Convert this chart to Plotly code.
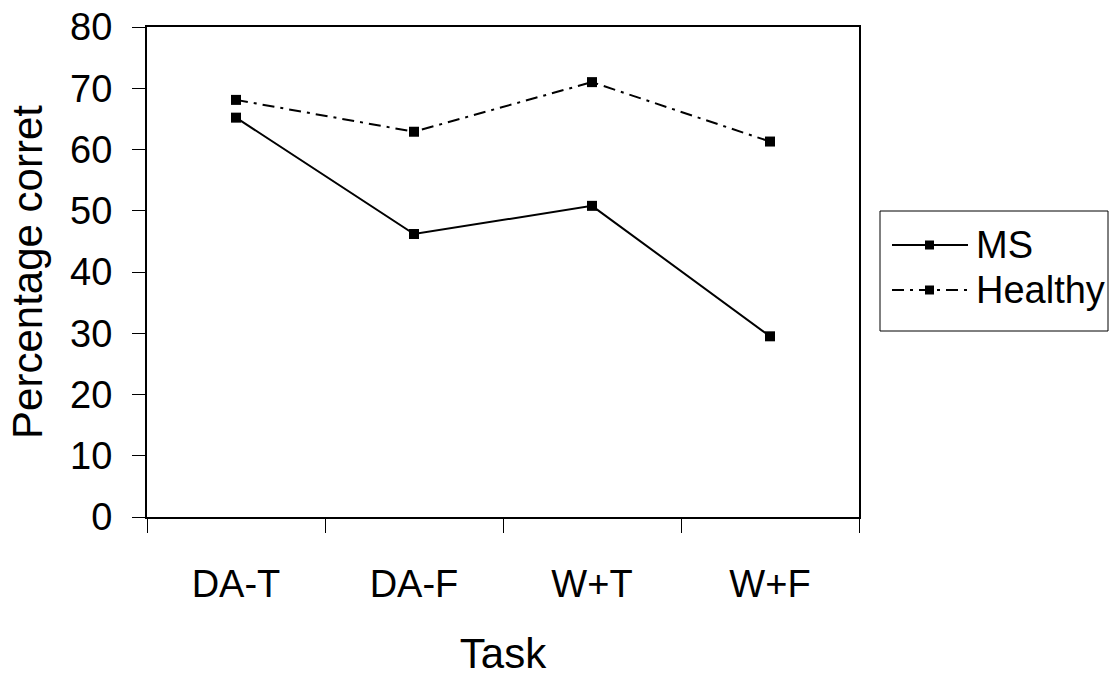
import plotly.graph_objects as go

tasks = ["DA-T", "DA-F", "W+T", "W+F"]
ms_values = [65.2, 46.2, 50.8, 29.5]
healthy_values = [68.1, 62.9, 71.0, 61.3]
y_ticks = [0, 10, 20, 30, 40, 50, 60, 70, 80]
series_names = ["MS", "Healthy"]

FONT = "Liberation Sans, Arial, sans-serif"
FS = 38
TFS = 42
DASHDOT = "12px,6px,3px,6px"

# plot area in pixels (for legend placement outside the plot)
L, R, T, B = 147, 859, 27, 517
def px(x):
    return (x - L) / (R - L)
def py(y):
    return (B - y) / (B - T)

fig = go.Figure()
fig.add_trace(go.Scatter(
    x=tasks, y=ms_values, name=series_names[0], mode="lines+markers",
    line=dict(color="black", width=2),
    marker=dict(symbol="square", size=10, color="black"),
))
fig.add_trace(go.Scatter(
    x=tasks, y=healthy_values, name=series_names[1], mode="lines+markers",
    line=dict(color="black", width=2, dash=DASHDOT),
    marker=dict(symbol="square", size=10, color="black"),
))

# custom legend
shapes = [
    dict(type="rect", xref="paper", yref="paper",
         x0=px(880), x1=px(1108), y0=py(331), y1=py(211),
         line=dict(color="black", width=1), fillcolor="white", layer="below"),
]
annotations = []
legend_rows = [(245, "solid"), (290, DASHDOT)]
for name, (yy, dash) in zip(series_names, legend_rows):
    shapes.append(dict(type="line", xref="paper", yref="paper",
                       x0=px(892), x1=px(968), y0=py(yy), y1=py(yy),
                       line=dict(color="black", width=2, dash=dash)))
    shapes.append(dict(type="rect", xref="paper", yref="paper",
                       x0=px(925), x1=px(934), y0=py(yy + 4.5), y1=py(yy - 4.5),
                       line=dict(color="black", width=0), fillcolor="black"))
    annotations.append(dict(text=name, xref="paper", yref="paper",
                            x=px(974), y=py(yy), xanchor="left", yanchor="middle",
                            showarrow=False, font=dict(family=FONT, size=FS, color="black")))

fig.update_layout(
    width=1110, height=677,
    margin=dict(l=L, r=1110 - R, t=T, b=677 - B, autoexpand=False),
    paper_bgcolor="white", plot_bgcolor="white",
    font=dict(family=FONT, size=FS, color="black"),
    showlegend=False,
    shapes=shapes, annotations=annotations,
)
fig.update_xaxes(
    type="category", categoryorder="array", categoryarray=tasks,
    range=[-0.5, 3.5], automargin=False,
    showline=True, linecolor="black", linewidth=2, mirror=True,
    showgrid=False, zeroline=False,
    ticks="outside", tickson="boundaries", ticklen=14, tickcolor="black", tickwidth=1,
    ticklabelstandoff=32,
    title=dict(text="Task", standoff=42, font=dict(size=TFS)),
)
fig.update_yaxes(
    range=[0, 80], tickvals=y_ticks, automargin=False,
    showline=True, linecolor="black", linewidth=2, mirror=True,
    showgrid=False, zeroline=False,
    ticks="outside", ticklen=13, tickcolor="black", tickwidth=1,
    ticklabelstandoff=12,
    title=dict(text="Percentage corret", standoff=14, font=dict(size=TFS)),
)

fig.write_html("out.html")
